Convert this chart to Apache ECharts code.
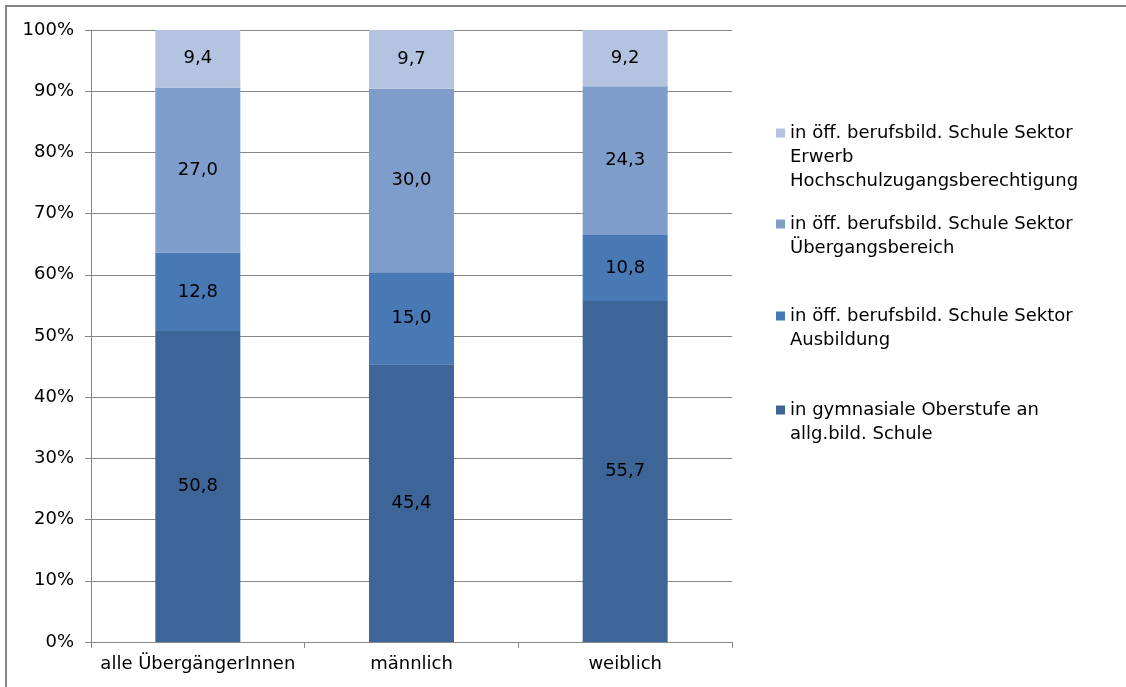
<!DOCTYPE html>
<html><head><meta charset="utf-8">
<script src="https://cdn.jsdelivr.net/npm/echarts@6/dist/echarts.min.js"></script>
<style>html,body{margin:0;padding:0;background:#fff}#c{width:1126px;height:687px}</style>
</head><body><div id="c"></div>
<script>
const categories = ['alle ÜbergängerInnen', 'männlich', 'weiblich'];
const gymnasial = [50.8, 45.4, 55.7];
const ausbildung = [12.8, 15.0, 10.8];
const uebergang = [27.0, 30.0, 24.3];
const erwerb = [9.4, 9.7, 9.2];
const seriesNames = [
  'in gymnasiale Oberstufe an allg.bild. Schule',
  'in öff. berufsbild. Schule Sektor Ausbildung',
  'in öff. berufsbild. Schule Sektor Übergangsbereich',
  'in öff. berufsbild. Schule Sektor Erwerb Hochschulzugangsberechtigung'
];
const legendLines = [
  ['in gymnasiale Oberstufe an', 'allg.bild. Schule'],
  ['in öff. berufsbild. Schule Sektor', 'Ausbildung'],
  ['in öff. berufsbild. Schule Sektor', 'Übergangsbereich'],
  ['in öff. berufsbild. Schule Sektor', 'Erwerb', 'Hochschulzugangsberechtigung']
];
const yTicks = [0, 10, 20, 30, 40, 50, 60, 70, 80, 90, 100];

const colors = ['#3D6597', '#4879B5', '#7E9DCA', '#B4C4E0'];
const values = [gymnasial, ausbildung, uebergang, erwerb];
const FONT = 'DejaVu Sans';
const LH = 24;
const legendTops = [398, 304, 212, 121];

const chart = echarts.init(document.getElementById('c'));
const legends = seriesNames.map((name, i) => {
  const n = legendLines[i].length;
  const h = LH * n;
  return {
    show: true,
    left: 776,
    top: legendTops[i],
    padding: 0,
    orient: 'vertical',
    data: [name],
    itemWidth: 9,
    itemHeight: h,
    itemGap: 0,
    selectedMode: false,
    icon: 'path://M0 0L9 0M0 7.5L9 7.5L9 16.5L0 16.5ZM0 ' + h + 'L9 ' + h,
    formatter: () => legendLines[i].join('\n'),
    textStyle: { fontFamily: FONT, fontSize: 18, color: '#000', lineHeight: LH }
  };
});

chart.setOption({
  animation: false,
  backgroundColor: '#fff',
  textStyle: { fontFamily: FONT },
  graphic: [{
    type: 'rect', silent: true,
    shape: { x: 6, y: 6, width: 1200, height: 800 },
    style: { fill: 'none', stroke: '#868686', lineWidth: 2 }
  }],
  grid: { left: 91, right: 394, top: 30, bottom: 45 },
  legend: legends,
  xAxis: {
    type: 'category',
    data: categories,
    axisLine: { lineStyle: { color: '#868686', width: 1 } },
    axisTick: { show: true, length: 6, lineStyle: { color: '#868686' } },
    axisLabel: { fontFamily: FONT, fontSize: 18, color: '#000', margin: 13, interval: 0 }
  },
  yAxis: {
    type: 'value',
    min: yTicks[0], max: yTicks[yTicks.length - 1], interval: 10,
    axisLine: { show: true, lineStyle: { color: '#868686', width: 1 } },
    axisTick: { show: true, length: 6, lineStyle: { color: '#868686' } },
    splitLine: { show: true, lineStyle: { color: '#868686', width: 1 } },
    axisLabel: { fontFamily: FONT, fontSize: 18, color: '#000', margin: 17, formatter: '{value}%' }
  },
  series: seriesNames.map((name, i) => ({
    name: name,
    type: 'bar',
    stack: 'total',
    barWidth: 85,
    data: values[i],
    itemStyle: { color: colors[i] },
    label: {
      show: true, position: 'inside', color: '#000',
      fontFamily: FONT, fontSize: 18,
      formatter: p => p.value.toFixed(1).replace('.', ',')
    }
  }))
});
</script></body></html>
